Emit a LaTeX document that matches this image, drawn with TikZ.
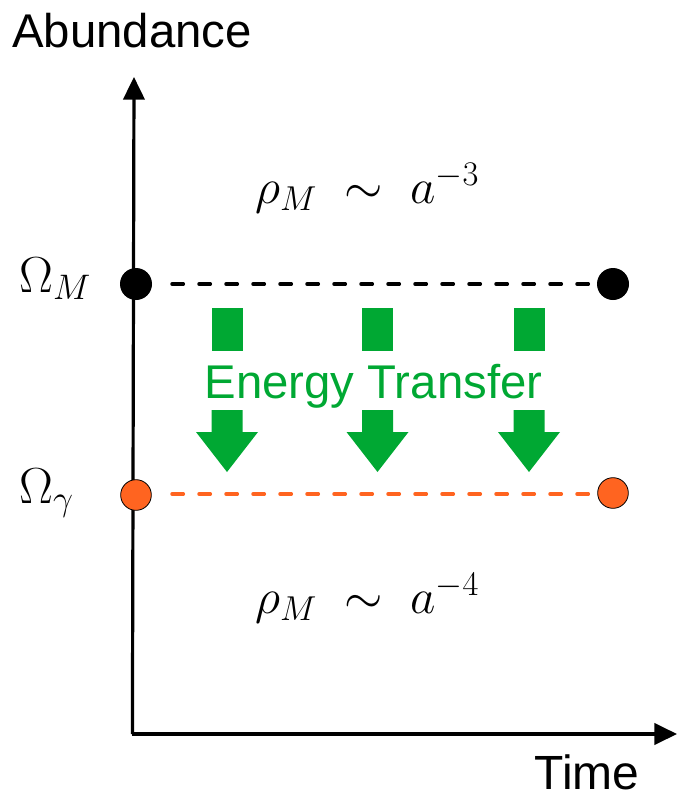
\RequirePackage{fix-cm}
\documentclass[tikz,border=0pt]{standalone}
\usepackage{fontspec}
\setmainfont{Liberation Sans}
\usetikzlibrary{arrows.meta}
\definecolor{egreen}{RGB}{0,168,51}
\definecolor{dorange}{RGB}{255,100,32}
\begin{document}
\begin{tikzpicture}[x=0.75pt,y=-0.75pt,
  axis/.style={line width=2.4pt,-{Triangle[length=17pt,width=16pt]}},
  dline/.style={line width=2.6pt,line cap=round,dash pattern=on 8.5pt off 11.75pt},
  bdot/.style={circle,fill=black,minimum size=24pt,inner sep=0pt},
  odot/.style={circle,fill=dorange,draw=black,line width=0.6pt,minimum size=23pt,inner sep=0pt},
  lbl/.style={inner sep=0pt,anchor=base west},
  gbox/.style={fill=egreen,draw=none}]
\useasboundingbox (0,0) rectangle (677,796);
% axes
\coordinate (O) at (134,734);
\coordinate (Ytip) at (134,77);
\coordinate (Xtip) at (677,734);
\draw[axis] ([xshift=-1.2pt]O) -- (Ytip);
\draw[axis] ([xshift=-1.2pt]O) -- (Xtip);
\node[lbl,font=\fontsize{35.5}{42}\selectfont] (ab) at (12,47) {Abundance};
\node[inner sep=0pt,anchor=base,font=\fontsize{36}{42}\selectfont] (time) at (587,789) {Time};
% dashed lines
\node[bdot] (m1) at (136,284) {};
\node[bdot] (m2) at (613,284) {};
\node[odot] (g1) at (136,495) {};
\node[odot] (g2) at (613,493) {};
\coordinate (ms) at (172,284); \coordinate (me) at (590,284);
\coordinate (gs) at (172,494); \coordinate (ge) at (590,494);
\draw[dline,black] (ms) -- (me);
\draw[dline,dorange] (gs) -- (ge);
% labels
\node[lbl,font=\fontsize{38}{44}\selectfont] (OmM) at (19,292) {$\Omega_M$};
\node[lbl,font=\fontsize{38}{44}\selectfont] (OmG) at (19,503) {$\Omega_\gamma$};
\node[lbl,font=\fontsize{37}{44}\selectfont] (rho3) at (255,203) {$\rho_M\;\sim\;a^{-3}$};
\node[lbl,font=\fontsize{37}{44}\selectfont] (rho4) at (255,613) {$\rho_M\;\sim\;a^{-4}$};
% green arrows
\foreach \c in {227,377.5,529}{
  \fill[gbox] (\c-15.5,308) rectangle (\c+15.5,351);
  \fill[gbox] (\c-15.5,410) -- (\c+15.5,410) -- (\c+15.5,432) -- (\c+31,432) -- (\c,472) -- (\c-31,432) -- (\c-15.5,432) -- cycle;
}
\node[inner sep=0pt,anchor=base,text=egreen,font=\fontsize{35.5}{42}\selectfont] (et) at (373.5,398) {Energy Transfer};
\end{tikzpicture}
\end{document}
